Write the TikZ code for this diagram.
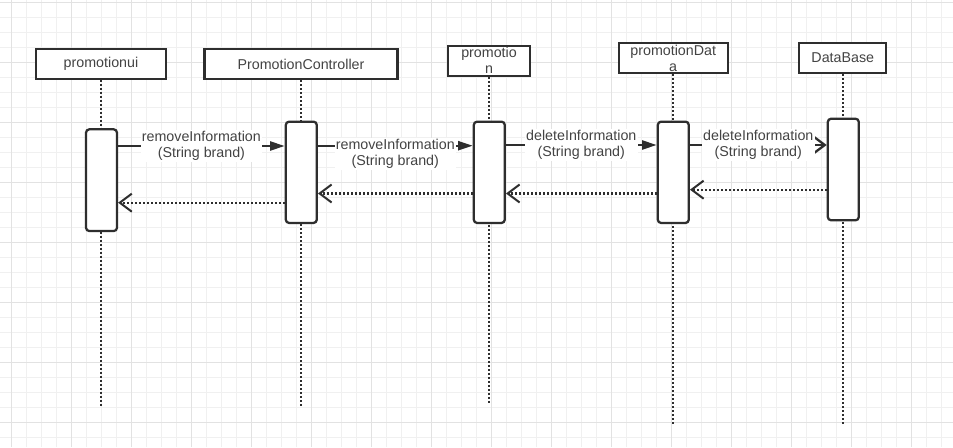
\documentclass[tikz,border=0pt]{standalone}
\usepackage{fontspec}
\setmainfont{Liberation Sans}
\usepackage{xcolor}
\usetikzlibrary{arrows.meta}

\definecolor{inkgray}{HTML}{2E2E2E}
\definecolor{gridminor}{HTML}{F0F0F0}
\definecolor{gridmajor}{HTML}{E2E2E2}

\begin{document}
\begin{tikzpicture}[x=0.75pt,y=-0.75pt,line width=1.7pt,
  every node/.style={font=\fontsize{10.7}{12}\selectfont,text=inkgray!90},
  object/.style={draw=inkgray,fill=white,inner sep=0pt,align=center,minimum height=22.5pt},
  activation/.style={draw=inkgray,fill=white,rounded corners=2.5pt,minimum width=23.25pt,inner sep=0pt},
  lifeline/.style={draw=inkgray,line width=1.8pt,dash pattern=on 1.5pt off 1.5pt},
  call/.style={draw=inkgray,-{Triangle[length=11pt,width=6.8pt]}},
  opencall/.style={draw=inkgray,-{Straight Barb[length=9pt,width=13.5pt]}},
  reply/.style={draw=inkgray,line width=1.8pt,dash pattern=on 1.5pt off 1.5pt,-{Straight Barb[length=9pt,width=13.5pt,line width=1.5pt]}},
  msg/.style={fill=white,inner sep=1pt,align=center}]

\useasboundingbox (0,0) rectangle (953,447);
\fill[white] (0,0) rectangle (953,447);

% grid
\foreach \gx in {11.5,26.5,...,953} \draw[gridminor,line width=0.75pt] (\gx,0) -- (\gx,447);
\foreach \gy in {2.5,17.5,...,447} \draw[gridminor,line width=0.75pt] (0,\gy) -- (953,\gy);
\foreach \gx in {11.5,71.5,...,953} \draw[gridmajor,line width=0.75pt] (\gx,0) -- (\gx,447);
\foreach \gy in {2.5,62.5,...,447} \draw[gridmajor,line width=0.75pt] (0,\gy) -- (953,\gy);


% objects
\node[object,minimum width=97.5pt] (ObjectUI) at (101,64) {promotionui};
\node[object,minimum width=144.75pt] (ObjectCtrl) at (301,64) {PromotionController};
\node[object,minimum width=62pt] (ObjectPromo) at (489,60.7) {promotio\\n};
\node[object,minimum width=81.75pt,minimum height=23pt] (ObjectData) at (673.2,58) {promotionDat\\a};
\node[object,minimum width=65.25pt,minimum height=23pt] (ObjectDB) at (842.8,58) {DataBase};

% lifelines
\coordinate (EndUI) at (101,406);
\coordinate (EndCtrl) at (301,406);
\coordinate (EndPromo) at (489,403);
\coordinate (EndData) at (673.2,424);
\coordinate (EndDB) at (842.8,424);

\draw[lifeline] (ObjectUI) -- (EndUI);
\draw[lifeline] (ObjectCtrl) -- (EndCtrl);
\draw[lifeline] (ObjectPromo) -- (EndPromo);
\draw[lifeline] (ObjectData) -- (EndData);
\draw[lifeline] (ObjectDB) -- (EndDB);

% activations
\node[activation,minimum height=76.3pt] (BarUI) at (101.5,180.2) {};
\node[activation,minimum height=76pt] (BarCtrl) at (301.3,172.3) {};
\node[activation,minimum height=76pt] (BarPromo) at (489.3,172.3) {};
\node[activation,minimum height=76pt] (BarData) at (673.3,172.3) {};
\node[activation,minimum height=76.2pt] (BarDB) at (843.3,169.5) {};


% calls
\coordinate (CallA) at (0,146);
\coordinate (CallB) at (0,145.7);
\coordinate (CallC) at (0,145);

\draw[call] (BarUI.east |- CallA) -- (BarCtrl.west |- CallA)
node[msg,midway] {removeInformation\\(String brand)};
\draw[call] (BarCtrl.east |- CallB) -- (BarPromo.west |- CallB)
node[msg,midway,yshift=-6pt] {removeInformation\\(String brand)};
\draw[call] (BarPromo.east |- CallC) -- (BarData.west |- CallC)
node[msg,midway] {deleteInformation\\(String brand)};
\draw[opencall] (BarData.east |- CallC) -- (BarDB.west |- CallC)
node[msg,midway] {deleteInformation\\(String brand)};

% replies
\coordinate (ReplyA) at (0,189.7);
\coordinate (ReplyB) at (0,193.5);
\coordinate (ReplyC) at (0,202.7);

\draw[reply] (BarDB.west |- ReplyA) -- (BarData.east |- ReplyA);
\draw[reply] (BarData.west |- ReplyB) -- (BarPromo.east |- ReplyB);
\draw[reply] (BarPromo.west |- ReplyB) -- (BarCtrl.east |- ReplyB);
\draw[reply] (BarCtrl.west |- ReplyC) -- (BarUI.east |- ReplyC);

\end{tikzpicture}
\end{document}
